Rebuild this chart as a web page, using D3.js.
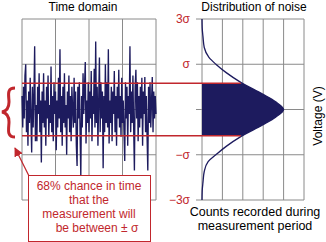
<!DOCTYPE html>
<html>
<head>
<meta charset="utf-8">
<script src="https://cdn.jsdelivr.net/npm/d3@7"></script>
<style>
  body { margin: 0; background: #fff; }
  svg { display: block; font-family: "Liberation Sans", Arial, sans-serif; }
</style>
</head>
<body>
<svg width="326" height="242"></svg>
<script>
// noise samples, in grid units (one grid row = 1)
var noise = [
  0.3, -0.4, 0.5, -0.2, 0.75, 1.0, -0.5, 0.2, -0.8, 0.4,
  -0.3, 0.7, -0.2, -0.95, 0.5, -0.4, 0.3, 1.4, -0.7, 0.1,
  -0.7, 0.5, -0.1, 0.8, -0.5, 0.2, -1.17, 0.4, -0.3, 0.8,
  -0.4, 0.2, -0.8, 0.5, -0.2, 0.75, -0.6, 0.1, -0.3, 0.95,
  -0.5, 0.3, -0.7, 0.6, -0.1, 0.4, -0.9, 0.2, -0.4, 0.7,
  -0.2, 1.33, -0.5, 0.3, -0.8, 0.5, -0.3, 0.8, -0.4, 0.1,
  -1.0, 0.4, -0.2, 0.75, -0.5, 0.3, -0.7, 0.5, 0.0, -0.4,
  0.7, -0.3, 0.4, -0.8, -1.25, 0.5, -0.2, 0.6, -0.5, -1.47,
  0.3, -0.4, 0.8, -0.1, 0.5, 1.05, -0.75, 0.2, -0.3, 0.6,
  -0.5, 0.4, -0.2, 0.85, -0.7, 0.3, -0.1, 0.9, -0.4, 1.5,
  -0.3, 0.5, -0.8, 0.2, 1.15, -0.5, 0.6, -0.2, 0.4, -1.3,
  0.3, -0.5, 1.0, -0.3, 0.6, -0.4, 1.33, -0.75, 0.2, -0.3,
  0.5, -0.7, 0.4, -0.1, 0.85, -0.5, 0.3, -0.8, 0.5, -0.2,
  0.88, -0.4, 0.3, -0.6, 0.7, -0.3, 0.2, -0.5, -1.14, 0.6,
  -0.2, 0.5, -0.8, 0.3, -0.1, 1.4, -0.5, 0.4, -0.3, 0.75,
  -0.4, -1.35, 0.5, 0.88, -0.2, 0.6, -0.7, 0.3, -0.4, 0.5,
  -0.2, 0.7, -0.8, 0.4, -0.1, 0.72, -0.5, 0.3, -0.6, -1.35,
  0.5, -0.3, 0.6, -0.4, 0.2, 0.72, -0.5, 0.4, -0.2, 0.3,
  -0.1
];

// distribution: voltage level -> counts
var distLevels = [-2, -1.8, -1.6, -1.37, -1.15, -1.0, -0.82, -0.6, -0.34, -0.17, 0,
                  0.17, 0.34, 0.6, 0.82, 1.0, 1.15, 1.37, 1.6, 1.8, 2];
var distCounts = [0, 0.01, 0.05, 0.11, 0.3, 0.68, 1.17, 1.9, 2.97, 3.61, 4.0,
                  3.61, 2.97, 1.9, 1.17, 0.68, 0.34, 0.11, 0.05, 0.01, 0];

var sigmaBand = 0.58;
var sigmaTicks = [2, 1, 0, -1, -2];
var sigmaLabels = ["3\u03c3", "\u03c3", "", "\u2212\u03c3", "\u22123\u03c3"];
var noteLines = ["68% chance in time", "that the", "measurement will", "be between \u00b1 \u03c3"];

var red = "#c1272d", navy = "#1d1b5e", grid = "#8a8a8a";
var svg = d3.select("svg");

var y = d3.scaleLinear().domain([-2, 2]).range([200, 19]);
var xT = d3.scaleLinear().domain([0, noise.length - 1]).range([22, 156]);
var xD = d3.scaleLinear().domain([0, 5]).range([202, 304]);

// ---- time domain grid
var gT = svg.append("g");
gT.selectAll(".v").data(d3.range(0, 5)).enter().append("line")
  .attr("x1", d => 22 + d * 33.5).attr("x2", d => 22 + d * 33.5)
  .attr("y1", 19).attr("y2", 200).attr("stroke", grid);
gT.selectAll(".h").data(sigmaTicks).enter().append("line")
  .attr("x1", 22).attr("x2", 156).attr("y1", d => y(d)).attr("y2", d => y(d)).attr("stroke", grid);

gT.append("path")
  .datum(noise)
  .attr("fill", "none")
  .attr("stroke", navy)
  .attr("stroke-width", 1.35)
  .attr("d", d3.line().x((d, i) => xT(i)).y(d => y(d)));

// ---- distribution grid
var gD = svg.append("g");
gD.selectAll(".v").data(d3.range(0, 6)).enter().append("line")
  .attr("x1", d => xD(d)).attr("x2", d => xD(d))
  .attr("y1", 19).attr("y2", 200).attr("stroke", grid);
gD.selectAll(".h").data(sigmaTicks).enter().append("line")
  .attr("x1", 196).attr("x2", 304).attr("y1", d => y(d)).attr("y2", d => y(d)).attr("stroke", grid);

var dist = distLevels.map((v, i) => ({ v: v, c: distCounts[i] }));

svg.append("clipPath").attr("id", "band")
  .append("rect").attr("x", 200).attr("width", 110)
  .attr("y", y(sigmaBand)).attr("height", y(-sigmaBand) - y(sigmaBand));

gD.append("path")
  .datum(dist)
  .attr("clip-path", "url(#band)")
  .attr("fill", navy)
  .attr("d", d3.area().curve(d3.curveMonotoneY).y(d => y(d.v)).x0(xD(0)).x1(d => xD(d.c)));

gD.append("path")
  .datum(dist)
  .attr("fill", "none")
  .attr("stroke", navy)
  .attr("stroke-width", 1.3)
  .attr("d", d3.line().curve(d3.curveMonotoneY).y(d => y(d.v)).x(d => xD(d.c)));

gD.selectAll(".lab").data(sigmaTicks).enter().append("text")
  .attr("x", 190).attr("y", d => y(d) + 4)
  .attr("text-anchor", "end")
  .attr("font-size", 12)
  .attr("fill", red)
  .text((d, i) => sigmaLabels[i]);

// ---- ±sigma lines
var bandCount = 1.9;
[sigmaBand, -sigmaBand].forEach(function(s) {
  svg.append("line")
    .attr("x1", 22).attr("x2", xD(bandCount))
    .attr("y1", y(s)).attr("y2", y(s))
    .attr("stroke", red).attr("stroke-width", 1.6);
});

// ---- titles
svg.append("text").attr("x", 83).attr("y", 11).attr("text-anchor", "middle")
  .attr("font-size", 12).text("Time domain");
svg.append("text").attr("x", 254).attr("y", 11).attr("text-anchor", "middle")
  .attr("font-size", 12).text("Distribution of noise");
svg.append("text").attr("transform", "translate(322,116) rotate(-90)")
  .attr("text-anchor", "middle").attr("font-size", 12).text("Voltage (V)");
svg.append("text").attr("x", 255).attr("y", 216).attr("text-anchor", "middle")
  .attr("font-size", 12.5).text("Counts recorded during");
svg.append("text").attr("x", 255).attr("y", 230).attr("text-anchor", "middle")
  .attr("font-size", 12.5).text("measurement period");

// ---- brace
svg.append("path")
  .attr("d", "M15,88 C6,88 9,96 9,102 C9,108 7,111 2,112 C7,113 9,116 9,122 C9,128 6,137 15,137")
  .attr("fill", "none").attr("stroke", red).attr("stroke-width", 3);

// ---- note box and arrow
svg.append("defs").append("marker")
  .attr("id", "arr").attr("viewBox", "0 0 10 10").attr("refX", 9).attr("refY", 5)
  .attr("markerWidth", 7).attr("markerHeight", 7).attr("orient", "auto")
  .append("path").attr("d", "M0,0 L10,5 L0,10 z").attr("fill", red);

svg.append("rect").attr("x", 28.5).attr("y", 175.5).attr("width", 122).attr("height", 66)
  .attr("fill", "#fff").attr("stroke", red).attr("stroke-width", 1);
svg.append("line").attr("x1", 29).attr("y1", 176).attr("x2", 15).attr("y2", 148)
  .attr("stroke", red).attr("stroke-width", 1.3).attr("marker-end", "url(#arr)");

svg.selectAll(".note").data(noteLines).enter().append("text")
  .attr("x", (d, i) => i === 3 ? 97 : 89)
  .attr("y", (d, i) => 190 + i * 14)
  .attr("text-anchor", "middle")
  .attr("font-size", 12)
  .attr("fill", red)
  .text(d => d);
</script>
</body>
</html>
